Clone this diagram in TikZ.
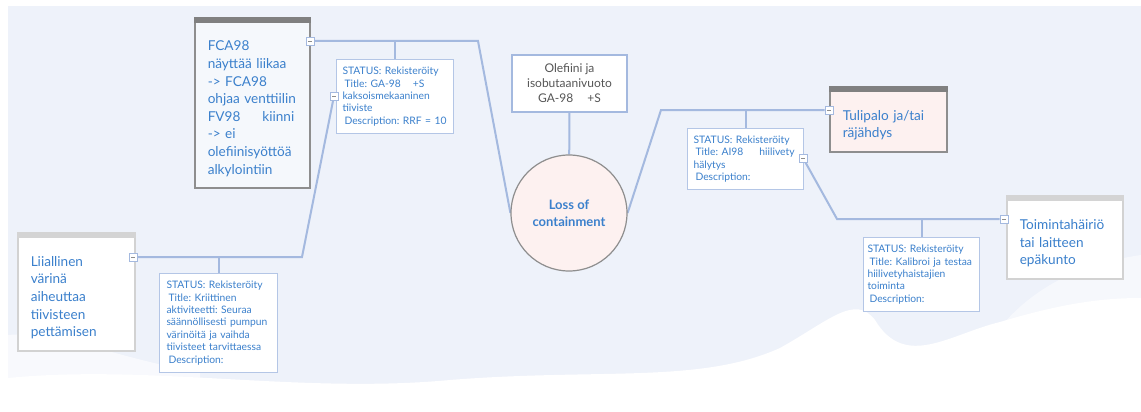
\documentclass[tikz,border=0pt]{standalone}
\usepackage{fontspec}
\setmainfont{Lato}
\usepackage{tikz}
\usetikzlibrary{positioning,calc}
\definecolor{bgcol}{HTML}{EEF2FA}
\definecolor{linecol}{HTML}{A4B9DF}
\definecolor{mapblue}{HTML}{3B80CC}
\definecolor{darkbar}{HTML}{808080}
\definecolor{lightbar}{HTML}{D4D4D4}
\definecolor{darkbd}{HTML}{8E8E8E}
\definecolor{lightbd}{HTML}{D2D2D2}
\definecolor{pinkfill}{HTML}{FDF1F0}
\definecolor{palefill}{HTML}{F5F8FC}
\definecolor{notebd}{HTML}{B4C6E6}
\definecolor{greytext}{HTML}{555555}
\pgfdeclarelayer{bg}
\pgfdeclarelayer{links}
\pgfsetlayers{bg,links,main}
\frenchspacing
\newcommand\gap[1]{\hspace*{#1pt}}
\newcommand\nohyph{\hyphenpenalty=10000\exhyphenpenalty=10000}

\begin{document}
\begin{tikzpicture}[x=1pt, y=-1pt,
    topic/.style={draw=darkbd, line width=1.5pt, anchor=north west, align=left,
      inner xsep=13pt, inner ysep=0pt, text=mapblue, font=\nohyph\fontsize{13.6}{17.6}\selectfont,
      execute at begin node={\rule{0pt}{22pt}}},
    note/.style={draw=notebd, line width=1pt, fill=white, anchor=north west, align=left,
      inner xsep=6pt, inner ysep=0pt, text=mapblue, font=\nohyph\fontsize{10.3}{12.4}\selectfont},
    fold/.style={draw=linecol, line width=0.8pt, fill=white, minimum size=8pt, inner sep=0pt,
      path picture={\draw[darkbd, line width=0.8pt] ([xshift=2pt]path picture bounding box.west)
        -- ([xshift=-2pt]path picture bounding box.east);}},
    link/.style={draw=linecol, line width=2pt}]
  \useasboundingbox (0,0) rectangle (1141,412);

  % backdrop
  \begin{pgfonlayer}{bg}
    \fill[bgcol] (8,6) rectangle (1141,412);
    \fill[white, opacity=0.5] (950,412) .. controls (990,320) and (1040,270) .. (1141,255) -- (1141,412) -- cycle;
    \fill[white, opacity=0.6] (8,412) -- (8,335) .. controls (60,330) and (120,360) .. (200,372) -- (200,412) -- cycle;
    \fill[white] (8,412) -- (8,378) .. controls (150,364) and (300,394) .. (450,380)
      .. controls (600,368) and (700,384) .. (780,348) .. controls (830,320) and (855,294) .. (875,320)
      .. controls (905,370) and (950,334) .. (1000,322) .. controls (1060,304) and (1100,298) .. (1141,298)
      -- (1141,412) -- cycle;
  \end{pgfonlayer}

  % central event
  \node[circle, draw=darkbd, line width=1.2pt, fill=pinkfill, minimum size=116pt, align=center,
    text=mapblue, font=\bfseries\fontsize{13}{17}\selectfont] (loss) at (569,213) {Loss of\\containment};
  \node[draw=linecol, line width=1.5pt, fill=white, minimum width=115pt, minimum height=57pt,
    align=center, text=greytext, font=\fontsize{12}{15}\selectfont] (ole) at (569.5,83.5)
    {Olefiini ja\\isobutaanivuoto\\GA-98\gap{14}+S};

  % causes
  \node[topic, fill=palefill, text width=89pt, minimum height=170pt] (fca) at (194,17)
    {FCA98\\näyttää liikaa\\-> FCA98\\ohjaa venttiilin\\FV98\gap{22}kiinni\\-> ei\\olefiinisyöttöä\\alkylointiin};
  \fill[darkbar] (fca.north west) rectangle ([yshift=-6pt]fca.north east);
  \node[topic, draw=lightbd, fill=white, text width=91pt, minimum height=118pt] (lii) at (17,232)
    {Liiallinen\\värinä\\aiheuttaa\\tiivisteen\\pettämisen};
  \fill[lightbar] (lii.north west) rectangle ([yshift=-6pt]lii.north east);

  % consequences
  \node[topic, fill=pinkfill, text width=91pt, minimum height=65pt] (tul) at (829,86)
    {Tulipalo ja/tai\\räjähdys};
  \fill[darkbar] (tul.north west) rectangle ([yshift=-6pt]tul.north east);
  \node[topic, draw=lightbd, fill=white, text width=90pt, minimum height=83pt] (toi) at (1006,195)
    {Toimintahäiriö\\tai laitteen\\epäkunto};
  \fill[lightbar] (toi.north west) rectangle ([yshift=-6pt]toi.north east);

  % barriers
  \node[note, text width=105pt, minimum height=74pt] (n1) at (336,59)
    {STATUS: Rekisteröity\\\gap{2}Title: GA-98\gap{12}+S\\kaksoismekaaninen\\tiiviste\\\gap{2}Description: RRF = 10};
  \node[note, text width=104pt, minimum height=99pt, inner xsep=7pt] (n4) at (159,273)
    {STATUS: Rekisteröity\\\gap{2}Title: Kriittinen\\aktiviteetti: Seuraa\\säännöllisesti pumpun\\värinöitä ja vaihda\\tiivisteet tarvittaessa\\\gap{2}Description:};
  \node[note, text width=104pt, minimum height=61pt] (n2) at (687,128)
    {STATUS: Rekisteröity\\\gap{2}Title: AI98\gap{16}hiilivety\\hälytys\\\gap{2}Description:};
  \node[note, text width=108pt, minimum height=74pt, inner xsep=4pt] (n3) at (863,237)
    {STATUS: Rekisteröity\\\gap{2}Title: Kalibroi ja testaa\\hiilivetyhaistajien\\toiminta\\\gap{2}Description:};

  % collapse buttons
  \node[fold] (fcaMin) at (310,41) {};
  \node[fold] (n1Min) at (334,96) {};
  \node[fold] (liiMin) at (133,257) {};
  \node[fold] (tulMin) at (829,110) {};
  \node[fold] (n2Min) at (803,158) {};
  \node[fold] (toiMin) at (1004,219) {};

  \coordinate (upL) at (478,41);
  \coordinate (dnL) at (302,257);
  \coordinate (upR) at (661,110);
  \coordinate (dnR) at (837,219);

  \begin{pgfonlayer}{links}
    \draw[link] (ole) -- (loss);
    \draw[link] (loss.west) -- (upL) -- (fcaMin);
    \draw[link] (n1.north) -- (n1.north |- fcaMin);
    \draw[link] (n1Min) -- (dnL) -- (liiMin);
    \draw[link] (n4.north) -- (n4.north |- liiMin);
    \draw[link] (loss.east) -- (upR) -- (tulMin);
    \draw[link] (n2.north) -- (n2.north |- tulMin);
    \draw[link] (n2Min) -- (dnR) -- (toiMin);
    \draw[link] (n3.north) -- (n3.north |- toiMin);
  \end{pgfonlayer}
\end{tikzpicture}
\end{document}
